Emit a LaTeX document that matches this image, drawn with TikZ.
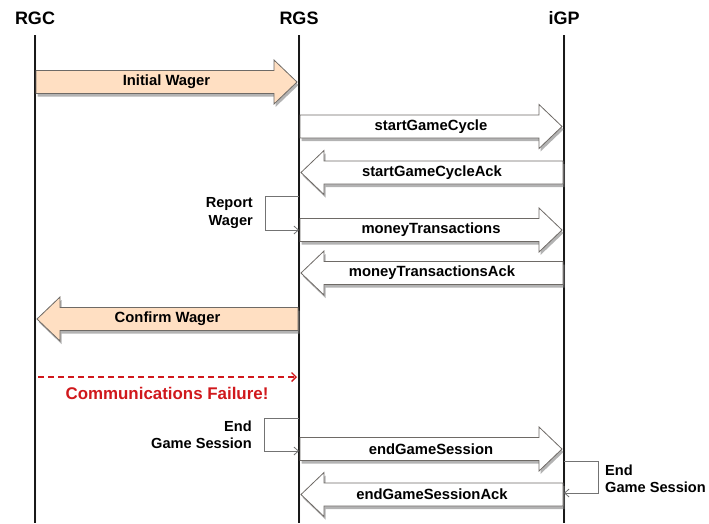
\documentclass[tikz,border=0pt]{standalone}
\usepackage{fontspec}
\setmainfont{Liberation Sans}
\usetikzlibrary{calc,shadows,arrows.meta}

\definecolor{wagerfill}{HTML}{FFDFC2}
\definecolor{msgline}{HTML}{6E6A66}
\definecolor{failred}{HTML}{D0181C}

\tikzset{
	party/.style={font=\bfseries\fontsize{18}{20}\selectfont, inner sep=0pt},
	lifeline/.style={line width=1.4pt, black!90, drop shadow={shadow xshift=1.5pt, shadow yshift=0pt, opacity=0.3}},
	msg/.style={draw=msgline, line width=0.8pt, fill=white, drop shadow={shadow xshift=1.5pt, shadow yshift=-3pt, opacity=0.6}},
	msglabel/.style={font=\bfseries\fontsize{14.8}{16}\selectfont, inner sep=0pt},
	selfloop/.style={draw=black!55, line width=0.8pt},
	note/.style={font=\bfseries\fontsize{14.6}{17.5}\selectfont, inner sep=0pt}
}

% fat message arrow: from lifeline #1 to lifeline #2 at height #3
\newcommand\fatmsg[5]{%
	\path ($(#1 |- 0,#3)!1pt!(#2 |- 0,#3)$) coordinate (s) ($(#2 |- 0,#3)!2pt!(#1 |- 0,#3)$) coordinate (e);
	\path ($(e)!23pt!(s)$) coordinate (h);
	\draw[msg, fill=#4] ($(s)+(0,-11.5)$) -- ($(h)+(0,-11.5)$) -- ($(h)+(0,-22)$) -- (e)
		-- ($(h)+(0,22)$) -- ($(h)+(0,11.5)$) -- ($(s)+(0,11.5)$) -- cycle;
	\node[msglabel] at ($(s)!0.5!(e)$) {#5};
}

\begin{document}
\begin{tikzpicture}[x=1pt, y=-1pt]
	\useasboundingbox (0,0) rectangle (709,523);

	\node[party] (rgc) at (35,18) {RGC};
	\node[party] (rgs) at (299,18) {RGS};
	\node[party] (igp) at (564,18) {iGP};

	\coordinate (rgcl) at (35,0);
	\coordinate (rgsl) at (299,0);
	\coordinate (igpl) at (564,0);

	\foreach \p in {rgcl,rgsl,igpl}
		\draw[lifeline] (\p |- 0,35) -- (\p |- 0,523);

	\fatmsg{rgcl}{rgsl}{82}{wagerfill}{Initial Wager}
	\fatmsg{rgsl}{igpl}{126.5}{white}{startGameCycle}
	\fatmsg{igpl}{rgsl}{172.5}{white}{startGameCycleAck}

	% report wager
	\draw[selfloop, -{Straight Barb[length=4.5pt, width=8pt]}] (rgsl |- 0,196) -- ++(-34,0) |- (rgsl |- 0,230);
	\node[note, align=right, anchor=east] (report) at (253,213) {Report\\Wager};

	\fatmsg{rgsl}{igpl}{230}{white}{moneyTransactions}
	\fatmsg{igpl}{rgsl}{273}{white}{moneyTransactionsAck}
	\fatmsg{rgsl}{rgcl}{319}{wagerfill}{Confirm Wager}

	% lost message
	\draw[failred, dash pattern=on 6pt off 4pt, line width=1.4pt, -{Straight Barb[length=4.5pt, width=9pt]}] (rgcl |- 0,377) ++(3,0) -- ($(rgsl |- 0,377)+(-2,0)$);
	\node[font=\bfseries\fontsize{16.9}{18}\selectfont, text=failred, inner sep=0pt] (fail) at (167,393) {Communications Failure!};

	% end session on RGS
	\draw[selfloop, -{Straight Barb[length=4.5pt, width=8pt]}] (rgsl |- 0,418) -- ++(-35,0) |- (rgsl |- 0,451);
	\node[note, align=right, anchor=east] (endrgs) at (252,435) {End\\Game Session};

	\fatmsg{rgsl}{igpl}{449}{white}{endGameSession}

	% end session on iGP
	\draw[selfloop, -{Straight Barb[length=4.5pt, width=8pt]}] (igpl |- 0,461) -- ++(34,0) |- (igpl |- 0,493);
	\node[note, align=left, anchor=west] (endigp) at (605,479) {End\\Game Session};

	\fatmsg{igpl}{rgsl}{494.5}{white}{endGameSessionAck}
\end{tikzpicture}
\end{document}
